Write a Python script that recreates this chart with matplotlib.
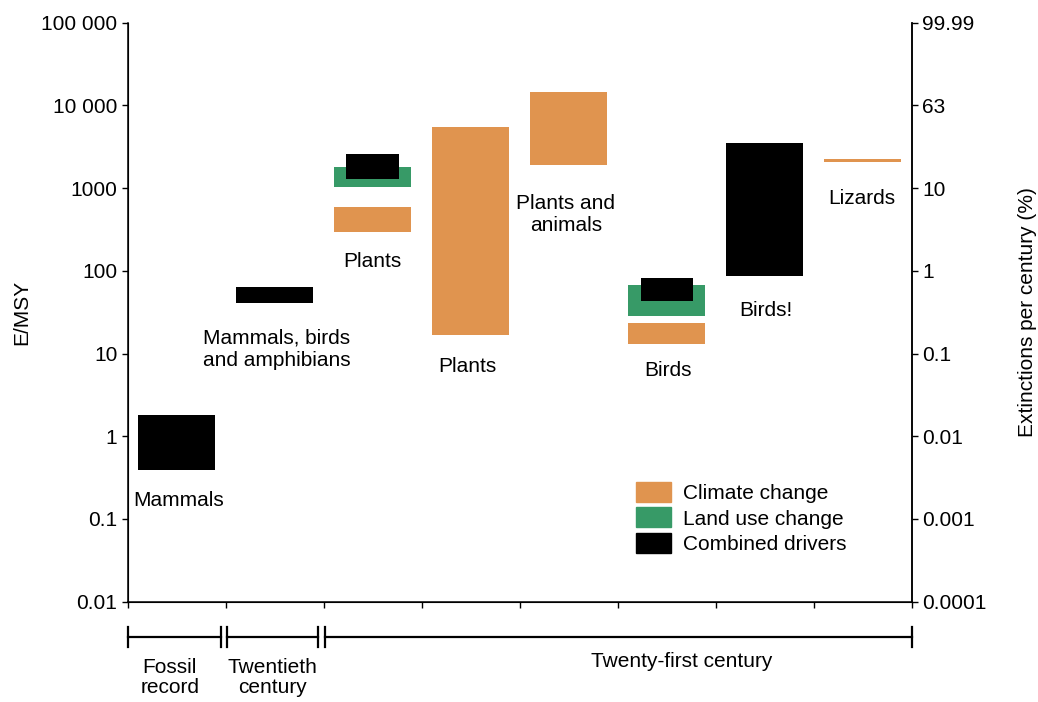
import numpy as np
import matplotlib
matplotlib.use("Agg")
import matplotlib.pyplot as plt
from matplotlib.patches import Patch
import matplotlib.transforms as mtransforms

plt.rcParams['font.family'] = ['Liberation Sans', 'DejaVu Sans']
plt.rcParams['font.size'] = 15

# colours
CLIMATE = '#E0944F'
LANDUSE = '#379A67'
COMBINED = '#000000'

# bars: column centre, width, low, high (E/MSY)
climate_x = [2.5, 3.5, 4.5, 5.5, 7.5]
climate_lo = [297, 16.7, 1900, 13.1, 2050]
climate_hi = [590, 5500, 14500, 23.2, 2230]

landuse_x = [2.5, 5.5]
landuse_lo = [1020, 28.6]
landuse_hi = [1780, 67]

combined_x = [0.5, 1.5, 2.5, 5.5, 6.5]
combined_w = [0.78, 0.78, 0.54, 0.53, 0.78]
combined_lo = [0.39, 41, 1280, 43, 87]
combined_hi = [1.8, 64, 2560, 83, 3500]

# group labels
label_text = ['Mammals', 'Mammals, birds\nand amphibians', 'Plants', 'Plants',
              'Plants and\nanimals', 'Birds', 'Birds!', 'Lizards']
label_x = [0.52, 1.52, 2.5, 3.47, 4.47, 5.51, 6.51, 7.49]
label_y = [0.165, 11.2, 131, 7.06, 486, 6.3, 32.7, 759]

left_ticks = [0.01, 0.1, 1, 10, 100, 1000, 10000, 100000]
left_labels = ['0.01', '0.1', '1', '10', '100', '1000', '10 000', '100 000']
right_labels = ['0.0001', '0.001', '0.01', '0.1', '1', '10', '63', '99.99']

fig = plt.figure(figsize=(10.38, 7.02), dpi=100)
ax = fig.add_axes([0.123, 0.1429, 0.7553, 0.8248])

w = 0.78
ax.bar(climate_x, np.array(climate_hi) - np.array(climate_lo), bottom=climate_lo,
       width=w, color=CLIMATE, zorder=2)
ax.bar(landuse_x, np.array(landuse_hi) - np.array(landuse_lo), bottom=landuse_lo,
       width=w, color=LANDUSE, zorder=3)
ax.bar(combined_x, np.array(combined_hi) - np.array(combined_lo), bottom=combined_lo,
       width=combined_w, color=COMBINED, zorder=4)

for t, x, y in zip(label_text, label_x, label_y):
    ax.text(x, y, t, ha='center', va='center', fontsize=15, linespacing=1.2)

ax.set_yscale('log')
ax.set_ylim(0.01, 100000)
ax.set_xlim(0, 8)
ax.set_yticks(left_ticks)
ax.set_yticklabels(left_labels)
ax.yaxis.set_minor_locator(matplotlib.ticker.NullLocator())
ax.set_xticks(np.arange(0, 9))
ax.set_xticklabels([])
ax.tick_params(direction='out', length=4, width=1, labelsize=15)
ax.spines['top'].set_visible(False)
for s in ['left', 'bottom', 'right']:
    ax.spines[s].set_linewidth(1.1)
ax.set_ylabel('E/MSY', fontsize=15, labelpad=7)

ax2 = ax.twinx()
ax2.set_yscale('log')
ax2.set_ylim(0.01, 100000)
ax2.set_yticks(left_ticks)
ax2.set_yticklabels(right_labels)
ax2.yaxis.set_minor_locator(matplotlib.ticker.NullLocator())
ax2.tick_params(direction='out', length=4, width=1, labelsize=15)
ax2.spines['top'].set_visible(False)
ax2.spines['right'].set_linewidth(1.1)
ax2.set_ylabel('Extinctions per century (%)', fontsize=15, labelpad=23)

# legend
handles = [Patch(color=CLIMATE), Patch(color=LANDUSE), Patch(color=COMBINED)]
ax.legend(handles, ['Climate change', 'Land use change', 'Combined drivers'],
          loc='upper left', bbox_to_anchor=(0.648, 0.207), frameon=False,
          borderpad=0, borderaxespad=0, handlelength=1.68, handleheight=1.1,
          labelspacing=0.22, handletextpad=0.58, fontsize=15)

# time period brackets below the axis
trans = mtransforms.blended_transform_factory(ax.transData, ax.transAxes)
yl, yc0, yc1 = -0.0604, -0.0432, -0.0777
segments = [(0.0, 0.949), (1.01, 1.945), (2.013, 8.0)]
for a, b in segments:
    ax.plot([a, b], [yl, yl], color='black', lw=1.6, transform=trans, clip_on=False)
    for xx in (a, b):
        ax.plot([xx, xx], [yc0, yc1], color='black', lw=1.6, transform=trans,
                clip_on=False)

period_text = ['Fossil\nrecord', 'Twentieth\ncentury', 'Twenty-first century']
period_x = [0.43, 1.48, 5.65]
period_y = [-0.097, -0.097, -0.087]
for t, x, y in zip(period_text, period_x, period_y):
    ax.text(x, y, t, ha='center', va='top', fontsize=15, transform=trans,
            linespacing=1.1)

fig.savefig('out.png', dpi=100)
